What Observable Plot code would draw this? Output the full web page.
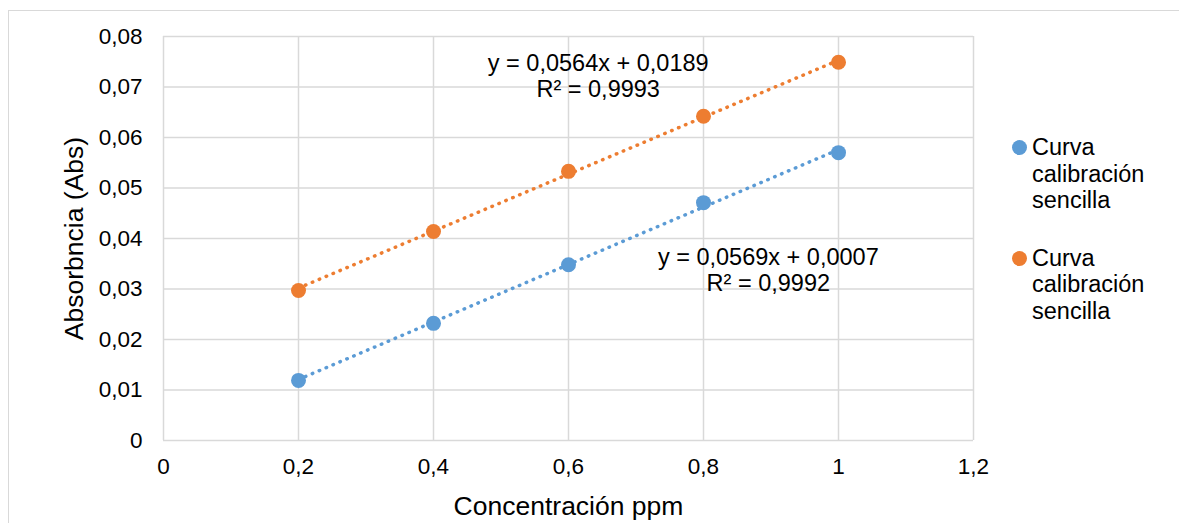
<!DOCTYPE html>
<html>
<head>
<meta charset="utf-8">
<script src="https://cdn.jsdelivr.net/npm/d3@7"></script>
<script src="https://cdn.jsdelivr.net/npm/@observablehq/plot@0.6"></script>
<style>
  html, body { margin: 0; padding: 0; background: #fff; }
  body { width: 1179px; height: 523px; position: relative; overflow: hidden; font-family: "Liberation Sans", Arial, sans-serif; }
  #frame { position: absolute; left: 8px; top: 10px; right: -2px; bottom: -2px; border-top: 1.5px solid #d9d9d9; border-left: 1.5px solid #d9d9d9; }
  #chart { position: absolute; left: 0; top: 0; }
  #legend { position: absolute; left: 1012px; top: 134px; font-size: 23.5px; line-height: 26.5px; color: #000; }
  .item { position: relative; padding-left: 20px; margin-bottom: 31px; }
  .sw { position: absolute; left: 0px; top: 6px; width: 15px; height: 15px; border-radius: 50%; }
</style>
</head>
<body>
<div id="frame"></div>
<div id="chart"></div>
<div id="legend"></div>
<script>
// Data
const concentrations = [0.2, 0.4, 0.6, 0.8, 1.0];
const blueValues = [0.0119, 0.0232, 0.0348, 0.0471, 0.0570];
const orangeValues = [0.0297, 0.0414, 0.0533, 0.0642, 0.0749];
const seriesNames = ["Curva calibración sencilla", "Curva calibración sencilla"];
const seriesColors = ["#5b9bd5", "#ed7d31"];
const slopes = [0.0569, 0.0564];
const intercepts = [0.0007, 0.0189];
const equationLabels = ["y = 0,0569x + 0,0007\nR² = 0,9992", "y = 0,0564x + 0,0189\nR² = 0,9993"];
const equationX = [0.896, 0.644];
const equationY = [0.0338, 0.0722];
const xTicks = [0, 0.2, 0.4, 0.6, 0.8, 1.0, 1.2];
const yTicks = [0, 0.01, 0.02, 0.03, 0.04, 0.05, 0.06, 0.07, 0.08];
const xTickLabels = ["0", "0,2", "0,4", "0,6", "0,8", "1", "1,2"];
const yTickLabels = ["0", "0,01", "0,02", "0,03", "0,04", "0,05", "0,06", "0,07", "0,08"];
const trendX = [0.2, 1.0];

const points = [];
[blueValues, orangeValues].forEach((vals, s) => {
  vals.forEach((v, i) => points.push({x: concentrations[i], y: v, s}));
});
const trends = [];
[0, 1].forEach(s => trendX.forEach(x => trends.push({x, y: slopes[s] * x + intercepts[s], s})));
const eqs = [0, 1].map(s => ({x: equationX[s], y: equationY[s], label: equationLabels[s]}));

const grid = "#d9d9d9";
const chart = Plot.plot({
  width: 1000,
  height: 523,
  marginLeft: 163,
  marginRight: 27,
  marginTop: 36,
  marginBottom: 83,
  style: {fontFamily: "'Liberation Sans', Arial, sans-serif", fontSize: "22.5px", color: "#000", background: "transparent"},
  x: {domain: [0, 1.2]},
  y: {domain: [0, 0.08]},
  marks: [
    Plot.gridX(xTicks, {stroke: grid, strokeOpacity: 1, strokeWidth: 1.5}),
    Plot.gridY(yTicks, {stroke: grid, strokeOpacity: 1, strokeWidth: 1.5}),
    Plot.axisX(xTicks, {tickSize: 0, tickPadding: 18, tickFormat: d => xTickLabels[xTicks.indexOf(d)], label: null, fontSize: 22.5}),
    Plot.axisY(yTicks, {tickSize: 0, tickPadding: 21, tickFormat: d => yTickLabels[yTicks.indexOf(d)], label: null, fontSize: 22.5}),
    Plot.text(["Concentración ppm"], {frameAnchor: "bottom", dy: 66, fontSize: 26.5, lineAnchor: "middle", textAnchor: "middle"}),
    Plot.text(["Absorbncia (Abs)"], {frameAnchor: "left", dx: -89, rotate: -90, fontSize: 26.5, lineAnchor: "middle", textAnchor: "middle"}),
    Plot.line(trends, {x: "x", y: "y", z: "s", stroke: d => seriesColors[d.s], strokeWidth: 3.5, strokeDasharray: "0.5 7", strokeLinecap: "round"}),
    Plot.dot(points, {x: "x", y: "y", r: 7.5, fill: d => seriesColors[d.s], stroke: "none"}),
    Plot.text(eqs, {x: "x", y: "y", text: "label", fontSize: 23.5, lineHeight: 1.1, textAnchor: "middle", lineAnchor: "middle", fill: "#000"})
  ]
});
document.getElementById("chart").appendChild(chart);

const legend = document.getElementById("legend");
seriesNames.forEach((name, i) => {
  const item = document.createElement("div");
  item.className = "item";
  const sw = document.createElement("span");
  sw.className = "sw";
  sw.style.background = seriesColors[i];
  item.appendChild(sw);
  const parts = name.split(" ");
  item.appendChild(document.createTextNode(parts[0]));
  parts.slice(1).forEach(p => { item.appendChild(document.createElement("br")); item.appendChild(document.createTextNode(p)); });
  legend.appendChild(item);
});
</script>
</body>
</html>
